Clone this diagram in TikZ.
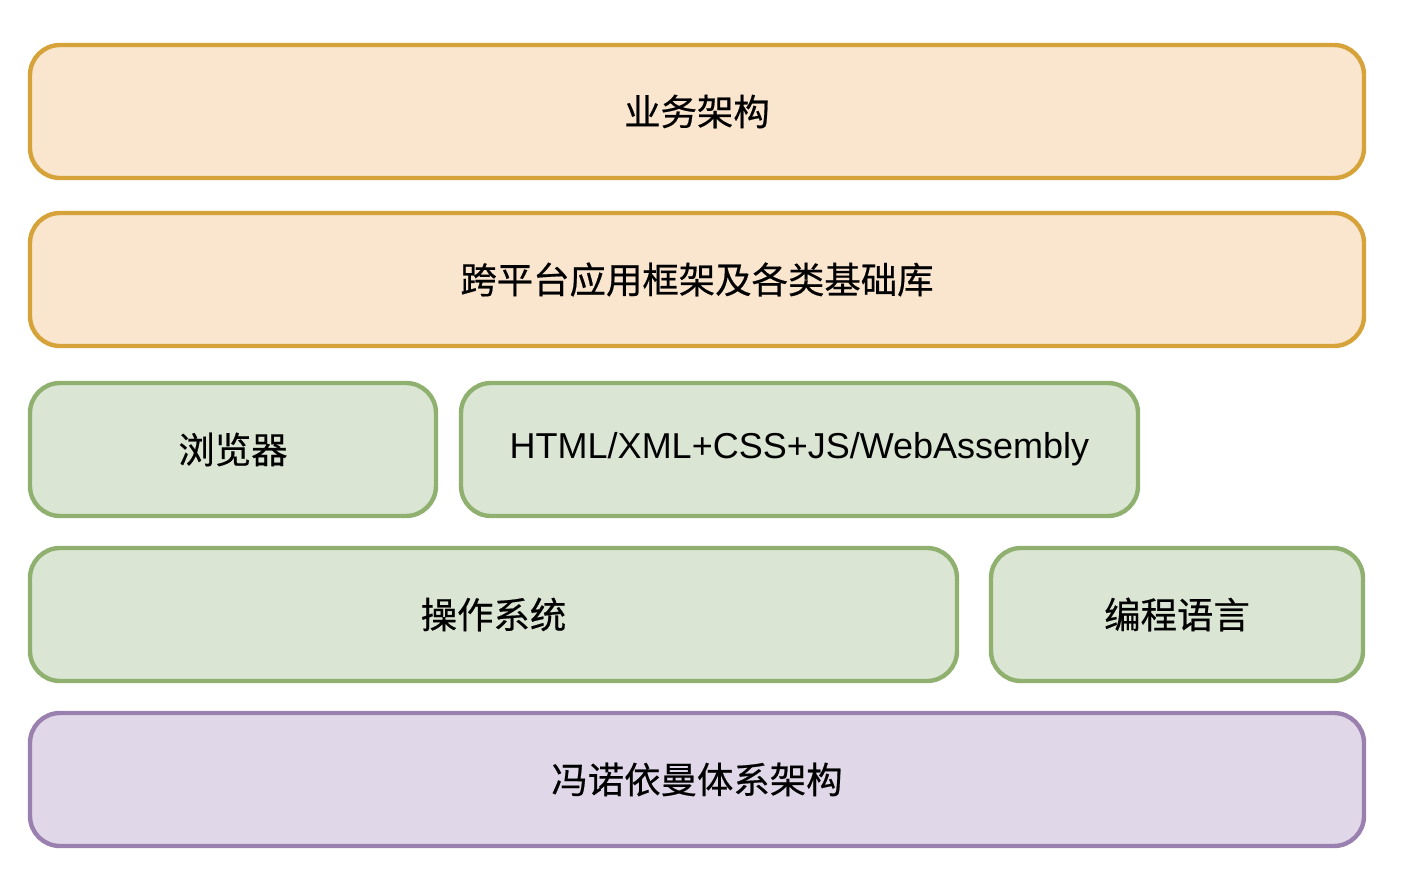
\documentclass[tikz,border=0pt]{standalone}
\usepackage{fontspec}
\setmainfont{Liberation Sans}
\newfontfamily\cjk[BoldFont={Noto Sans CJK SC}, BoldFeatures={FakeBold=0.5}]{Noto Sans CJK SC}
\usepackage{tikz}
\usetikzlibrary{positioning}

\definecolor{orangefill}{HTML}{FAE5CF}
\definecolor{orangeline}{HTML}{D6A23A}
\definecolor{greenfill}{HTML}{DAE6D3}
\definecolor{greenline}{HTML}{8FB06F}
\definecolor{purplefill}{HTML}{E0D7E8}
\definecolor{purpleline}{HTML}{9A80AE}

\begin{document}
\begin{tikzpicture}[x=0.5pt, y=-0.5pt,
      every node/.append style={rectangle, rounded corners=15pt, line width=2.2pt,
        minimum height=66.5pt, inner sep=0pt, font=\fontsize{18.2}{20}\selectfont},
      layer/.style={draw=#1line, fill=#1fill}]
    \useasboundingbox (0,0) rectangle (1408,878);
    \node (biz)   [layer=orange, minimum width=667pt] at (697,111.5) {\cjk\bfseries 业务架构};
    \node (frame) [layer=orange, minimum width=667pt] at (697,279.5) {\cjk\bfseries 跨平台应用框架及各类基础库};
    \node (browser) [layer=green, minimum width=203pt] at (233,449.5) {\cjk\bfseries 浏览器};
    \node (web)   [layer=green, minimum width=338.5pt] at (799.5,449.5) {\fontsize{18}{20}\selectfont HTML/XML+CSS+JS/WebAssembly};
    \node (os)    [layer=green, minimum width=463.5pt] at (493.5,614.5) {\cjk\bfseries 操作系统};
    \node (lang)  [layer=green, minimum width=186pt] at (1177,614.5) {\cjk\bfseries 编程语言};
    \node (vn)    [layer=purple, minimum width=667pt] at (697,779.5) {\cjk\bfseries 冯诺依曼体系架构};
  \end{tikzpicture}
\end{document}
